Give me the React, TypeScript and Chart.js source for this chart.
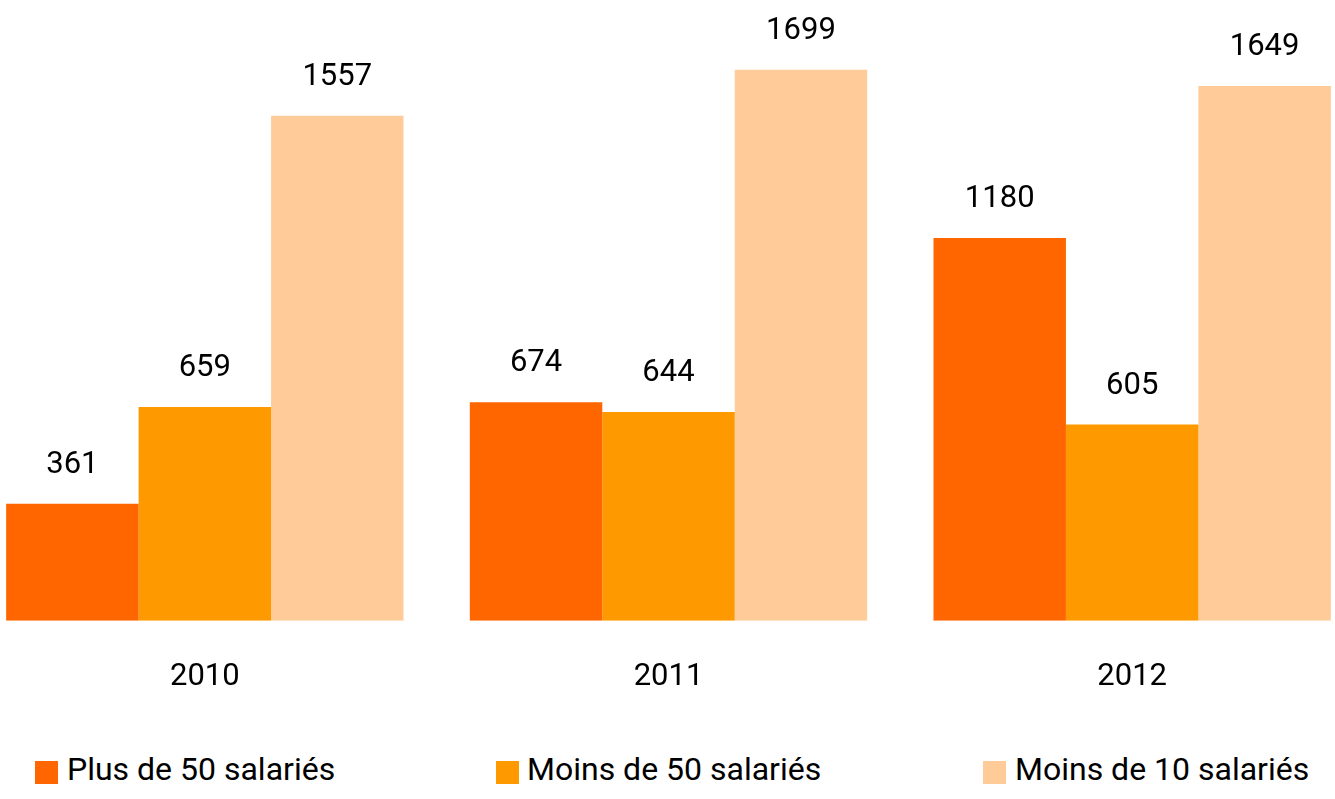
import React, { useEffect, useRef } from "react";
import { Chart, registerables } from "chart.js";

Chart.register(...registerables);

const categories = ["2010", "2011", "2012"];
const seriesNames = ["Plus de 50 salariés", "Moins de 50 salariés", "Moins de 10 salariés"];
const plus50 = [361, 674, 1180];
const moins50 = [659, 644, 605];
const moins10 = [1557, 1699, 1649];
const seriesColors = ["#FF6600", "#FF9900", "#FFCC99"];

const FONT = "Roboto, 'Liberation Sans', sans-serif";

const valueLabels = {
  id: "valueLabels",
  afterDatasetsDraw(chart: any) {
    const ctx = chart.ctx;
    ctx.save();
    ctx.font = `31px ${FONT}`;
    ctx.fillStyle = "#000";
    ctx.textAlign = "center";
    ctx.textBaseline = "alphabetic";
    chart.data.datasets.forEach((ds: any, i: number) => {
      const meta = chart.getDatasetMeta(i);
      meta.data.forEach((bar: any, j: number) => {
        ctx.fillText(String(ds.data[j]), bar.x, bar.y - 31);
      });
    });
    ctx.restore();
  },
};

export default function App() {
  const ref = useRef<HTMLCanvasElement | null>(null);

  useEffect(() => {
    if (!ref.current) return;
    const chart = new Chart(ref.current, {
      type: "bar",
      data: {
        labels: categories,
        datasets: [plus50, moins50, moins10].map((d, i) => ({
          label: seriesNames[i],
          data: d,
          backgroundColor: seriesColors[i],
          borderWidth: 0,
          barPercentage: 1,
          categoryPercentage: 0.857,
        })),
      },
      options: {
        animation: false,
        responsive: false,
        devicePixelRatio: 1,
        layout: { padding: { top: 37, left: 0, right: 0, bottom: 0 } },
        plugins: { legend: { display: false }, tooltip: { enabled: false } },
        scales: {
          x: {
            grid: { display: false, drawTicks: false },
            border: { display: false },
            ticks: { color: "#000", font: { family: FONT, size: 31 }, padding: 38 },
          },
          y: { display: false, min: 0, max: 1800 },
        },
      },
      plugins: [valueLabels],
    });
    return () => chart.destroy();
  }, []);

  const legendItems = [
    { box: 35, text: 67 },
    { box: 496, text: 527 },
    { box: 983, text: 1015 },
  ];

  return (
    <div style={{ position: "fixed", left: 0, top: 0, width: 1335, height: 799, overflow: "hidden", background: "#fff" }}>
      <canvas ref={ref} width={1391} height={734} style={{ position: "absolute", left: -27, top: 0 }} />
      {legendItems.map((it, i) => (
        <React.Fragment key={i}>
          <div style={{ position: "absolute", left: it.box, top: 761, width: 23, height: 23, background: seriesColors[i] }} />
          <span style={{ position: "absolute", left: it.text, top: 753, fontFamily: FONT, fontSize: 32, lineHeight: "32px", color: "#000", whiteSpace: "nowrap" }}>
            {seriesNames[i]}
          </span>
        </React.Fragment>
      ))}
    </div>
  );
}
